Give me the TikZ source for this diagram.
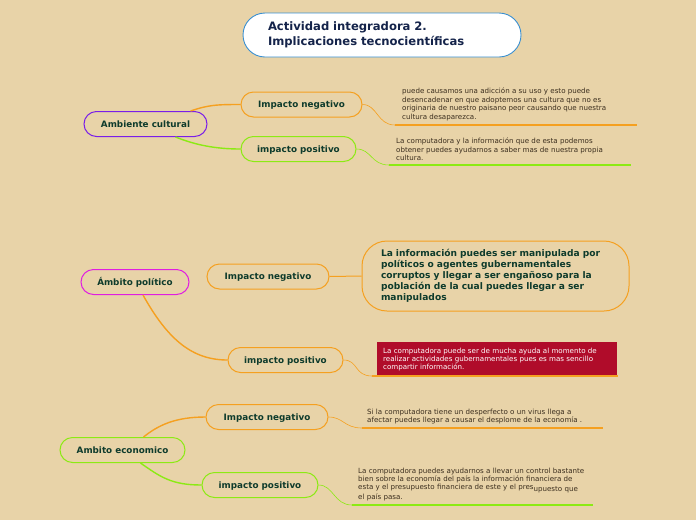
\documentclass[tikz,border=0pt]{standalone}
\usepackage{fontspec}
\setmainfont{DejaVu Sans}
\usetikzlibrary{calc}
\definecolor{bgc}{HTML}{E8D3A8}
\definecolor{orc}{HTML}{F5A020}
\definecolor{grc}{HTML}{8CEA14}
\definecolor{puc}{HTML}{7A1FE8}
\definecolor{mgc}{HTML}{E01EE0}
\definecolor{blc}{HTML}{3A8FD0}
\definecolor{nvc}{HTML}{14234A}
\definecolor{lbc}{HTML}{0E3B2C}
\definecolor{bdc}{HTML}{3B2E1E}
\definecolor{rdc}{HTML}{B00C2A}
\tikzset{
  topic/.style={draw, line width=1pt, rounded corners=12.5pt, minimum height=25pt,
    inner sep=0pt, text=lbc, text height=6.5pt, text depth=0pt,
    font=\bfseries\fontsize{8.8}{10}\selectfont},
  body/.style={anchor=north west, inner sep=0pt, align=left, text=bdc,
    font=\fontsize{7.1}{8.4}\selectfont},
  link/.style={line width=1.4pt},
  thin/.style={line width=0.6pt},
  uline/.style={line width=1.6pt}
}
\begin{document}
\begin{tikzpicture}[x=1pt,y=-1pt]
\fill[bgc] (0,0) rectangle (696,520);
\useasboundingbox (0,0) rectangle (696,520);

% title
\node[draw=blc, line width=0.9pt, fill=white, rounded corners=22pt, minimum height=44pt,
  text width=228pt, inner xsep=25pt, inner ysep=0pt, align=left, text=nvc,
  font=\bfseries\fontsize{11.6}{15}\selectfont] (title) at (382,35)
  {Actividad integradora 2.\\Implicaciones tecnocientíficas};

% Ambiente cultural
\node[topic, draw=puc, minimum width=123pt] (amb) at (145.5,124) {Ambiente cultural};
\node[topic, draw=orc, minimum width=121pt] (neg1) at (301.5,104.5) {Impacto negativo};
\node[topic, draw=grc, minimum width=115pt] (pos1) at (298.5,149) {impacto positivo};
\node[body] (t1) at (402,88) {puede causamos una adicción a su uso y esto puede\\desencadenar en que adoptemos una cultura que no es\\originaria de nuestro paisano peor causando que nuestra\\cultura desaparezca.};
\node[body] (t2) at (396,138) {La computadora y la información que de esta podemos\\obtener puedes ayudarnos a saber mas de nuestra propia\\cultura.};
\coordinate (u1a) at (395,125); \coordinate (u1b) at (637,125);
\coordinate (u2a) at (389,165); \coordinate (u2b) at (631,165);
\draw[uline, orc] (u1a) -- (u1b);
\draw[uline, grc] (u2a) -- (u2b);
\draw[link, orc] ($(amb.north)+(45,0)$) .. controls +(18,-6) and +(-25,0) .. (neg1.west);
\draw[link, grc] ($(amb.south)+(30,0)$) .. controls +(20,8) and +(-25,0) .. (pos1.west);
\draw[thin, orc] (neg1.east) .. controls +(15,0) and +(-18,0) .. (u1a);
\draw[thin, grc] (pos1.east) .. controls +(15,0) and +(-18,0) .. (u2a);

% Ambito politico
\node[topic, draw=mgc, minimum width=108pt] (pol) at (135,282) {Ámbito político};
\node[topic, draw=orc, minimum width=122pt] (neg2) at (268,276.5) {Impacto negativo};
\node[topic, draw=orc, minimum width=115pt] (pos2) at (285.5,360) {impacto positivo};
\node[draw=orc, line width=1pt, rounded corners=25pt, minimum height=70pt,
  text width=229pt, inner xsep=19pt, inner ysep=0pt, align=left, text=lbc,
  font=\bfseries\fontsize{9.1}{11}\selectfont] (big) at (495.5,276)
  {La información puedes ser manipulada por\\políticos o agentes gubernamentales\\corruptos y llegar a ser engañoso para la\\población de la cual puedes llegar a ser\\manipulados};
\node[fill=rdc, minimum width=240pt, minimum height=33pt, inner sep=0pt] (redbox) at (497,358.5) {};
\node[body, text=white] (t3) at (383,347.5) {La computadora puede ser de mucha ayuda al momento de\\realizar actividades gubernamentales pues es mas sencillo\\compartir información.};
\coordinate (u3a) at (372,376); \coordinate (u3b) at (618,376);
\draw[uline, orc] (u3a) -- (u3b);
\draw[link, orc] ($(pol.south)+(8,0)$) .. controls +(25,45) and +(-35,0) .. (pos2.west);
\draw[line width=1pt, orc] (neg2.east) -- (big.west);
\draw[thin, orc] (pos2.east) .. controls +(15,0) and +(-18,0) .. (u3a);

% Ambito economico
\node[topic, draw=grc, minimum width=125pt] (eco) at (122.5,450) {Ambito economico};
\node[topic, draw=orc, minimum width=122pt] (neg3) at (267,417) {Impacto negativo};
\node[topic, draw=grc, minimum width=116pt] (pos3) at (260,485) {impacto positivo};
\node[body] (t4) at (367,408.5) {Si la computadora tiene un desperfecto o un virus llega a\\afectar puedes llegar a causar el desplome de la economía .};
\node[body] (t5) at (358,467.5) {La computadora puedes ayudarnos a llevar un control bastante\\bien sobre la economía del país la información financiera de\\esta y el presupuesto financiera de este y el pres\raisebox{-1.5pt}{upuesto que}\\el país pasa.};
\coordinate (u4a) at (362,428); \coordinate (u4b) at (603,428);
\coordinate (u5a) at (352,505); \coordinate (u5b) at (593,505);
\draw[uline, orc] (u4a) -- (u4b);
\draw[uline, grc] (u5a) -- (u5b);
\draw[link, orc] ($(eco.north)+(21,0)$) .. controls +(15,-12) and +(-30,0) .. (neg3.west);
\draw[link, grc] ($(eco.south)+(18,0)$) .. controls +(20,14) and +(-30,0) .. (pos3.west);
\draw[thin, orc] (neg3.east) .. controls +(15,0) and +(-18,0) .. (u4a);
\draw[thin, grc] (pos3.east) .. controls +(15,0) and +(-18,0) .. (u5a);
\end{tikzpicture}
\end{document}
